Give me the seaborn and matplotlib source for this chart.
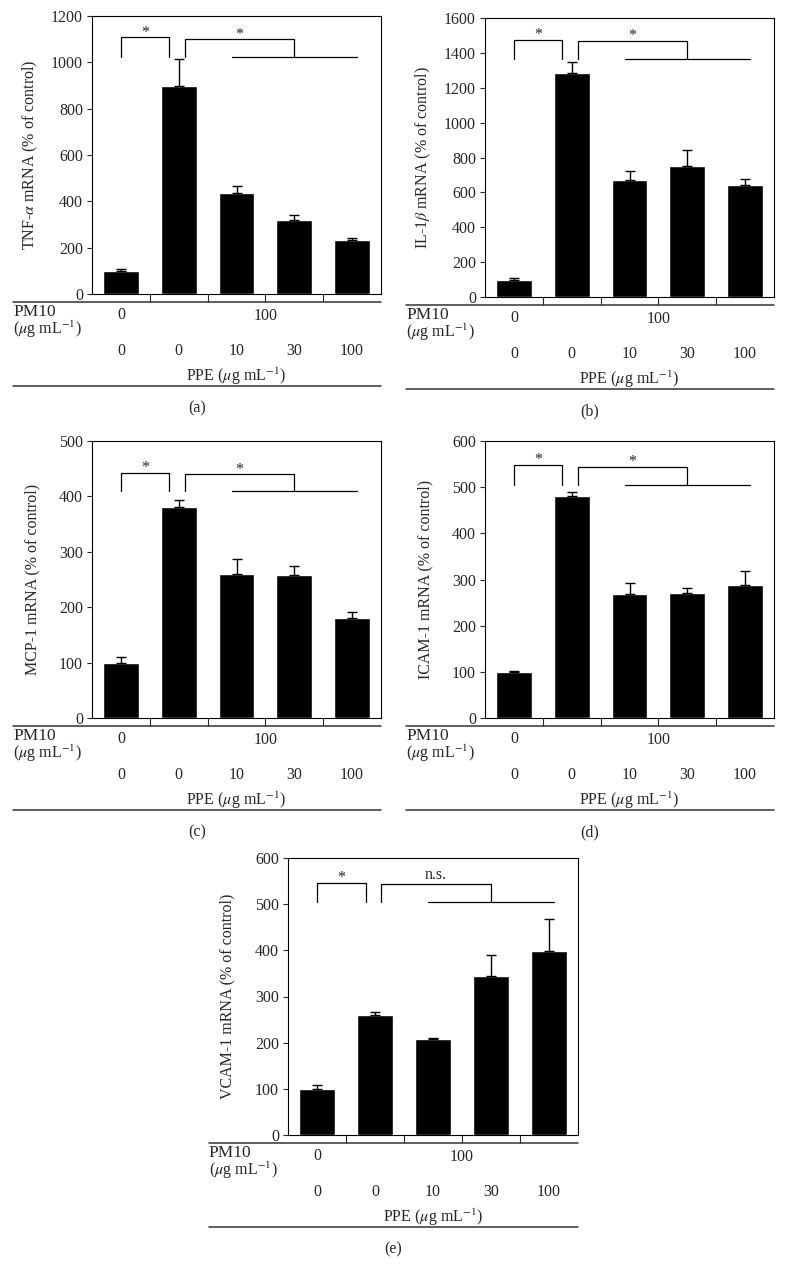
import numpy as np
import pandas as pd
import matplotlib
matplotlib.use("Agg")
import matplotlib.pyplot as plt
import seaborn as sns
from matplotlib.transforms import offset_copy

# groups (PM10 / PPE combos)
groups = ["PM0_PPE0", "PM100_PPE0", "PM100_PPE10", "PM100_PPE30", "PM100_PPE100"]
ppe_labels = ["0", "0", "10", "30", "100"]

# panel data: mean and upper error (% of control)
tnf_mean = [98, 899, 438, 320, 233]
tnf_err = [10, 114, 30, 19, 8]
il1b_mean = [96, 1284, 669, 753, 642]
il1b_err = [13, 65, 53, 92, 32]
mcp1_mean = [99, 381, 260, 259, 180]
mcp1_err = [11, 12, 27, 15, 11]
icam1_mean = [99, 480, 268, 271, 288]
icam1_err = [3, 10, 24, 10, 31]
vcam1_mean = [99, 259, 207, 344, 399]
vcam1_err = [10, 7, 3, 46, 68]

ylabels = [r"TNF-$\alpha$ mRNA (% of control)", r"IL-1$\beta$ mRNA (% of control)",
           "MCP-1 mRNA (% of control)", "ICAM-1 mRNA (% of control)",
           "VCAM-1 mRNA (% of control)"]
ymax = [1200, 1600, 500, 600, 600]
ystep = [200, 200, 100, 100, 100]
letters = ["(a)", "(b)", "(c)", "(d)", "(e)"]
# significance brackets: first bracket top, second bracket top, base line, label
sig_top1 = [1108, 1475, 443, 548, 546]
sig_top2 = [1099, 1467, 440, 544, 543]
sig_base = [1023, 1367, 409, 505, 505]
sig_text = ["*", "*", "*", "*", "n.s."]

means = [tnf_mean, il1b_mean, mcp1_mean, icam1_mean, vcam1_mean]
errs = [tnf_err, il1b_err, mcp1_err, icam1_err, vcam1_err]

sns.set_style("ticks")
plt.rcParams["font.family"] = ["Liberation Serif", "DejaVu Serif"]
plt.rcParams["mathtext.fontset"] = "stix"
plt.rcParams["font.size"] = 11.5

W, H = 786, 1278
fig = plt.figure(figsize=(W / 100, H / 100), dpi=100)

# axes boxes in pixels: left, top, right, bottom
boxes = [(92, 16, 381, 294), (485, 18, 774, 297), (92, 441, 381, 718),
         (485, 441, 774, 718), (288, 858, 578, 1135)]

for i in range(5):
    l, t, r, b = boxes[i]
    ax = fig.add_axes([l / W, 1 - b / H, (r - l) / W, (b - t) / H])
    df = pd.DataFrame({"group": groups, "value": means[i]})
    sns.barplot(data=df, x="group", y="value", order=groups, color="black",
                saturation=1, width=0.62, errorbar=None, ax=ax)
    ax.errorbar(np.arange(5), means[i], yerr=[np.zeros(5), errs[i]], fmt="none",
                ecolor="black", elinewidth=1, capsize=3.5, capthick=1)

    ax.set_xlim(-0.5, 4.5)
    ax.set_ylim(0, ymax[i])
    ax.set_yticks(np.arange(0, ymax[i] + 1, ystep[i]))
    ax.set_xticks([0.5, 1.5, 2.5, 3.5])
    ax.set_xticklabels([])
    ax.set_xlabel("")
    ax.set_ylabel(ylabels[i], fontsize=11.5)
    ax.yaxis.set_label_coords(-0.18, 0.5)
    ax.tick_params(axis="x", direction="out", length=6, width=0.8)
    ax.tick_params(axis="y", direction="out", length=3.5, width=0.8, labelsize=11.5, pad=3)
    for s in ax.spines.values():
        s.set_linewidth(0.8)
        s.set_color("black")

    # significance brackets
    kw = dict(color="black", lw=0.9, clip_on=False)
    ax.plot([0, 0, 0.84, 0.84], [sig_base[i], sig_top1[i], sig_top1[i], sig_base[i]], **kw)
    ax.plot([1.11, 1.11, 3.0, 3.0], [sig_base[i], sig_top2[i], sig_top2[i], sig_base[i]], **kw)
    ax.plot([1.92, 4.09], [sig_base[i], sig_base[i]], **kw)
    ax.annotate("*", (0.42, sig_top1[i]), xytext=(0, 0.5), textcoords="offset points",
                ha="center", va="baseline")
    dy_lab = 3.5 if sig_text[i] == "n.s." else 0.5
    ax.annotate(sig_text[i], (2.05, sig_top2[i]), xytext=(0, dy_lab),
                textcoords="offset points", ha="center", va="baseline")

    # treatment table under the axis
    xdata = ax.get_xaxis_transform()
    def tr(dy, base=xdata):
        return offset_copy(base, fig=fig, x=0, y=-dy, units="dots")
    for dy in (8, 92):
        ax.plot([-0.273, 1.0], [0, 0], transform=tr(dy, ax.transAxes),
                color="#333333", lw=1.1, clip_on=False)
    ax.text(-0.273, 0, "PM10", transform=tr(18, ax.transAxes), ha="left", va="center",
            fontsize=12.5)
    ax.text(-0.273, 0, r"($\mu$g mL$^{-1}$)", transform=tr(35, ax.transAxes),
            ha="left", va="center")
    ax.text(0, 0, "0", transform=tr(21), ha="center", va="center")
    ax.text(2.5, 0, "100", transform=tr(22), ha="center", va="center")
    for k, lab in enumerate(ppe_labels):
        ax.text(k, 0, lab, transform=tr(57), ha="center", va="center")
    ax.text(2, 0, r"PPE ($\mu$g mL$^{-1}$)", transform=tr(82), ha="center", va="center")
    ax.text(0.3635, 0, letters[i], transform=tr(114, ax.transAxes), ha="center", va="center")

fig.savefig("out.png", dpi=100)
